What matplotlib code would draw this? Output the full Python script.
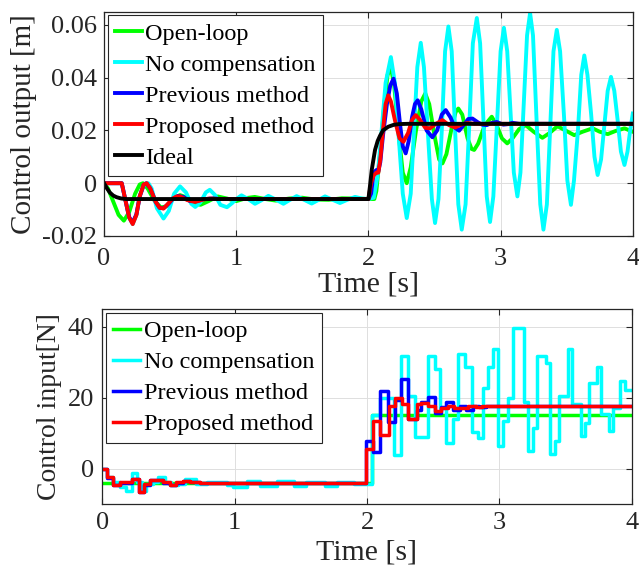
import matplotlib
matplotlib.use("Agg")
import matplotlib.pyplot as plt

plt.rcParams["font.family"] = ["Liberation Serif", "DejaVu Serif"]

# ---- control output [m] ----
open_t = [0, 0.03, 0.07, 0.11, 0.15, 0.19, 0.235, 0.27, 0.295, 0.33, 0.38, 0.43, 0.47, 0.52, 0.575,
          0.63, 0.69, 0.73, 0.79, 0.86, 0.93, 1.0, 1.08, 1.14, 1.22, 1.3, 1.4, 1.5, 1.6, 1.7, 1.8,
          1.9, 2.0, 2.045, 2.06, 2.09, 2.12, 2.145, 2.17, 2.195, 2.23, 2.26, 2.29, 2.32, 2.36, 2.40,
          2.43, 2.46, 2.50, 2.535, 2.56, 2.59, 2.63, 2.66, 2.68, 2.71, 2.75, 2.78, 2.80, 2.83, 2.88,
          2.933, 2.97, 3.01, 3.05, 3.09, 3.14, 3.19, 3.25, 3.316, 3.37, 3.43, 3.49, 3.557, 3.62,
          3.696, 3.75, 3.81, 3.87, 3.937, 4.0]
open_y = [0, -0.002, -0.007, -0.012, -0.0142, -0.011, -0.004, -0.0005, 0.0, -0.002, -0.0065, -0.0092,
          -0.0088, -0.006, -0.0045, -0.0055, -0.0078, -0.0082, -0.0068, -0.005, -0.0058, -0.0068,
          -0.0056, -0.0052, -0.006, -0.0066, -0.0058, -0.0055, -0.0062, -0.0063, -0.0057, -0.0058,
          -0.006, -0.006, -0.003, 0.012, 0.030, 0.041, 0.044, 0.037, 0.018, 0.004, 0.0, 0.006, 0.020,
          0.031, 0.034, 0.030, 0.018, 0.009, 0.0075, 0.011, 0.021, 0.027, 0.0283, 0.026, 0.017, 0.013,
          0.0126, 0.015, 0.022, 0.0252, 0.022, 0.017, 0.0151, 0.017, 0.0205, 0.022, 0.0195, 0.0172,
          0.019, 0.0216, 0.020, 0.0182, 0.0195, 0.0208, 0.0195, 0.0186, 0.0198, 0.0208, 0.0195]

nocomp_t = [0, 0.134, 0.16, 0.19, 0.217, 0.245, 0.27, 0.30, 0.335, 0.36, 0.40, 0.45, 0.49, 0.53, 0.575,
            0.62, 0.66, 0.69, 0.73, 0.77, 0.80, 0.84, 0.88, 0.93, 0.97, 1.0, 1.04, 1.09, 1.142, 1.19,
            1.243, 1.30, 1.357, 1.40, 1.457, 1.51, 1.571, 1.62, 1.672, 1.73, 1.785, 1.84, 1.899, 1.95,
            2.0, 2.04, 2.07, 2.10, 2.13, 2.17, 2.20, 2.23, 2.26, 2.29, 2.32, 2.345, 2.37, 2.396, 2.42,
            2.45, 2.48, 2.504, 2.53, 2.555, 2.58, 2.605, 2.63, 2.655, 2.68, 2.706, 2.735, 2.763, 2.79,
            2.82, 2.845, 2.87, 2.895, 2.92, 2.945, 2.972, 3.0, 3.025, 3.05, 3.075, 3.10, 3.127, 3.15,
            3.175, 3.20, 3.223, 3.245, 3.272, 3.30, 3.324, 3.35, 3.375, 3.40, 3.425, 3.45, 3.48, 3.505,
            3.532, 3.555, 3.585, 3.61, 3.633, 3.657, 3.685, 3.71, 3.734, 3.76, 3.785, 3.81, 3.835,
            3.86, 3.885, 3.91, 3.937, 3.96, 3.98, 4.0]
nocomp_y = [0, 0.0, -0.006, -0.013, -0.0155, -0.012, -0.005, -0.0008, 0.0, -0.002, -0.0095, -0.0134,
            -0.0105, -0.004, -0.0012, -0.0035, -0.0078, -0.009, -0.0072, -0.0035, -0.0025, -0.0045,
            -0.0082, -0.0091, -0.0075, -0.006, -0.0046, -0.006, -0.0078, -0.0065, -0.0048, -0.0062,
            -0.0078, -0.0065, -0.0049, -0.0062, -0.0077, -0.0064, -0.005, -0.0063, -0.0075, -0.0063,
            -0.0052, -0.0058, -0.006, -0.0055, 0.003, 0.020, 0.038, 0.0478, 0.038, 0.017, -0.004,
            -0.0132, -0.004, 0.020, 0.044, 0.0532, 0.044, 0.019, -0.006, -0.0151, -0.006, 0.020, 0.050,
            0.0594, 0.050, 0.021, -0.008, -0.0176, -0.008, 0.022, 0.053, 0.0626, 0.053, 0.024, -0.005,
            -0.0147, -0.005, 0.022, 0.050, 0.0589, 0.050, 0.027, 0.004, -0.005, 0.004, 0.030, 0.056,
            0.0645, 0.056, 0.024, -0.008, -0.0176, -0.008, 0.021, 0.050, 0.0581, 0.050, 0.025, 0.001,
            -0.0082, 0.001, 0.020, 0.041, 0.0484, 0.041, 0.026, 0.010, 0.0031, 0.009, 0.022, 0.035,
            0.0403, 0.035, 0.024, 0.012, 0.0069, 0.012, 0.020, 0.0264]

prev_t = [0, 0.134, 0.16, 0.19, 0.215, 0.245, 0.27, 0.30, 0.32, 0.35, 0.39, 0.42, 0.45, 0.48, 0.52,
          0.56, 0.60, 0.65, 0.70, 0.76, 0.82, 0.9, 2.0, 2.02, 2.04, 2.06, 2.075, 2.09, 2.11, 2.14,
          2.165, 2.19, 2.215, 2.24, 2.26, 2.282, 2.305, 2.33, 2.352, 2.373, 2.40, 2.44, 2.484, 2.52,
          2.555, 2.585, 2.62, 2.655, 2.686, 2.72, 2.755, 2.787, 2.83, 2.86, 2.895, 2.93, 2.97, 3.02,
          3.06, 3.09, 3.14, 4.0]
prev_y = [0, 0.0, -0.006, -0.0128, -0.015, -0.0118, -0.005, -0.0006, 0.0, -0.002, -0.007, -0.0093,
          -0.0095, -0.0082, -0.006, -0.0048, -0.0052, -0.0068, -0.0068, -0.006, -0.0058, -0.006,
          -0.006, -0.004, 0.004, 0.005, 0.0045, 0.008, 0.018, 0.030, 0.037, 0.0396, 0.034, 0.022,
          0.014, 0.0113, 0.016, 0.025, 0.030, 0.0314, 0.028, 0.020, 0.0174, 0.020, 0.026, 0.0277,
          0.025, 0.021, 0.0199, 0.022, 0.0243, 0.0245, 0.023, 0.0222, 0.022, 0.0228, 0.0232, 0.0222,
          0.0224, 0.0229, 0.0225, 0.0225]

prop_t = [0, 0.134, 0.16, 0.19, 0.217, 0.245, 0.27, 0.30, 0.323, 0.35, 0.39, 0.42, 0.45, 0.48, 0.52,
          0.55, 0.575, 0.63, 0.69, 0.75, 0.80, 0.87, 2.0, 2.02, 2.04, 2.06, 2.075, 2.09, 2.11, 2.13,
          2.15, 2.17, 2.20, 2.235, 2.265, 2.30, 2.33, 2.358, 2.39, 2.43, 2.466, 2.51, 2.56, 2.61,
          2.656, 2.70, 2.75, 2.80, 4.0]
prop_y = [0, 0.0, -0.006, -0.013, -0.0155, -0.012, -0.005, -0.0005, 0.0, -0.002, -0.007, -0.0093,
          -0.0096, -0.008, -0.0058, -0.005, -0.005, -0.0064, -0.0071, -0.0062, -0.0058, -0.006,
          -0.006, 0.0, 0.003, 0.004, 0.004, 0.009, 0.020, 0.030, 0.0333, 0.031, 0.024, 0.017, 0.0157,
          0.019, 0.024, 0.0258, 0.024, 0.021, 0.0208, 0.0225, 0.0239, 0.022, 0.0211, 0.0222, 0.0228,
          0.0225, 0.0225]

ideal_t = [0, 0.02, 0.045, 0.07, 0.095, 0.13, 0.17, 2.0, 2.012, 2.025, 2.05, 2.07, 2.088, 2.11, 2.15,
           2.19, 2.23, 2.3, 4.0]
ideal_y = [0, -0.0018, -0.0036, -0.0047, -0.0053, -0.0058, -0.006, -0.006, -0.001, 0.005, 0.0126,
           0.016, 0.018, 0.020, 0.0214, 0.0221, 0.0224, 0.0225, 0.0225]

# ---- control input [N], staircase: times where the held value changes ----
u_open_t = [0, 2.04, 4.0]
u_open = [-4.0, 15.2, 15.2]

u_nocomp_t = [0, 0.035, 0.08, 0.13, 0.18, 0.22, 0.262, 0.295, 0.332, 0.383, 0.42, 0.47, 0.52, 0.572,
              0.62, 0.71, 0.79, 0.94, 0.99, 1.09, 1.19, 1.32, 1.45, 1.54, 1.68, 1.77, 1.90, 2.04,
              2.10, 2.205, 2.26, 2.31, 2.36, 2.46, 2.51, 2.55, 2.60, 2.65, 2.69, 2.74, 2.79, 2.84,
              2.875, 2.915, 2.95, 2.99, 3.025, 3.065, 3.10, 3.183, 3.216, 3.251, 3.284, 3.352,
              3.384, 3.422, 3.452, 3.518, 3.553, 3.618, 3.648, 3.678, 3.736, 3.769, 3.829, 3.862,
              3.912, 3.95, 4.0]
u_nocomp = [0.0, -2.5, -3.9, -5.2, -6.3, -1.3, -3.9, -6.3, -4.4, -3.8, -2.5, -3.9, -4.7, -4.3, -2.9,
            -4.3, -3.9, -4.7, -5.2, -3.6, -5.0, -3.6, -5.0, -3.7, -4.9, -3.8, -4.3, 15.2, 19.8, 3.7,
            31.7, 20.4, 9.0, 31.7, 28.2, 17.0, 7.2, 14.0, 32.3, 28.6, 10.4, 8.5, 22.9, 28.6, 33.7,
            6.4, 13.5, 20.0, 39.8, 18.9, 5.0, 11.6, 31.8, 29.9, 4.0, 7.8, 20.5, 33.7, 18.3, 9.2,
            13.0, 24.3, 28.7, 15.5, 10.6, 17.0, 24.7, 22.1, 22.1]

u_prev_t = [0, 0.035, 0.08, 0.13, 0.22, 0.252, 0.277, 0.315, 0.358, 0.458, 0.509, 0.559, 0.61, 0.66,
            0.735, 1.99, 2.045, 2.10, 2.16, 2.21, 2.26, 2.31, 2.375, 2.41, 2.46, 2.51, 2.56, 2.60,
            2.65, 2.70, 2.75, 2.80, 2.85, 2.90, 2.95, 4.0]
u_prev = [0.0, -2.6, -4.6, -4.0, -3.0, -2.8, -6.5, -4.6, -3.2, -4.0, -4.6, -4.0, -3.6, -3.9, -4.1,
          7.8, 4.6, 22.0, 13.2, 19.5, 25.2, 14.0, 16.5, 18.9, 20.3, 15.8, 17.5, 18.8, 16.5, 17.6,
          16.6, 17.8, 17.3, 17.8, 17.6, 17.6]

u_prop_t = [0, 0.035, 0.08, 0.13, 0.22, 0.252, 0.277, 0.315, 0.358, 0.458, 0.509, 0.559, 0.61, 0.66,
            0.735, 1.99, 2.045, 2.10, 2.163, 2.213, 2.263, 2.313, 2.375, 2.41, 2.46, 2.51, 2.56,
            2.61, 2.66, 2.71, 2.76, 2.82, 2.87, 4.0]
u_prop = [0.0, -2.5, -4.7, -3.9, -3.0, -2.8, -6.7, -4.4, -3.2, -3.9, -4.7, -3.9, -3.6, -3.9, -4.1,
          5.4, 13.4, 9.6, 17.6, 20.0, 18.3, 13.9, 18.3, 18.4, 17.8, 16.4, 17.1, 17.7, 17.1, 17.2,
          17.6, 17.4, 17.6, 17.6]

labels = ["Open-loop", "No compensation", "Previous method", "Proposed method", "Ideal"]
colors = ["#00ff00", "#00ffff", "#0000ff", "#ff0000", "#000000"]

text_col = "#262626"


def style_axes(ax):
    ax.grid(True, color="#dedede", linewidth=0.7)
    ax.set_axisbelow(True)
    ax.tick_params(direction="in", top=True, right=True, length=4, width=0.8,
                   labelsize=19, colors=text_col)
    for s in ax.spines.values():
        s.set_color(text_col)
        s.set_linewidth(0.9)


def add_legend(ax):
    leg = ax.legend(loc="upper left", fontsize=17.5, fancybox=False, framealpha=1,
                    edgecolor=text_col, borderaxespad=0.15, handlelength=1.1,
                    handletextpad=0.15, labelspacing=0.37, borderpad=0.3)
    leg.get_frame().set_linewidth(0.8)
    for t in leg.get_texts():
        t.set_color("black")
    return leg


fig = plt.figure(figsize=(6.39, 5.75), dpi=100)

ax1 = fig.add_axes([0.1628, 0.5896, 0.8275, 0.3901])
ax1.plot(open_t, open_y, color=colors[0], lw=2.8, label=labels[0])
ax1.plot(nocomp_t, nocomp_y, color=colors[1], lw=2.8, label=labels[1])
ax1.plot(prev_t, prev_y, color=colors[2], lw=2.8, label=labels[2])
ax1.plot(prop_t, prop_y, color=colors[3], lw=2.8, label=labels[3])
ax1.plot(ideal_t, ideal_y, color=colors[4], lw=2.8, label=labels[4])
ax1.set_xlim(0, 4)
ax1.set_ylim(-0.02, 0.065)
ax1.set_xticks([0, 1, 2, 3, 4])
ax1.set_yticks([-0.02, 0, 0.02, 0.04, 0.06])
ax1.set_yticklabels(["-0.02", "0", "0.02", "0.04", "0.06"])
style_axes(ax1)
ax1.tick_params(axis="x", pad=9)
ax1.tick_params(axis="y", pad=5)
ax1.set_xlabel("Time [s]", fontsize=21.5, color=text_col, labelpad=1)
ax1.set_ylabel("Control output [m]", fontsize=21, color=text_col, labelpad=4)
add_legend(ax1)

ax2 = fig.add_axes([0.1604, 0.1235, 0.828, 0.3386])
ax2.plot(u_open_t, u_open, color=colors[0], lw=2.5, drawstyle="steps-post", label=labels[0])
ax2.plot(u_nocomp_t, u_nocomp, color=colors[1], lw=2.5, drawstyle="steps-post", label=labels[1])
ax2.plot(u_prev_t, u_prev, color=colors[2], lw=2.5, drawstyle="steps-post", label=labels[2])
ax2.plot(u_prop_t, u_prop, color=colors[3], lw=2.5, drawstyle="steps-post", label=labels[3])
ax2.set_xlim(0, 4)
ax2.set_ylim(-10, 45)
ax2.set_xticks([0, 1, 2, 3, 4])
ax2.set_yticks([0, 20, 40])
style_axes(ax2)
ax2.tick_params(axis="x", pad=6)
ax2.tick_params(axis="y", pad=6)
ax2.set_xlabel("Time [s]", fontsize=21.5, color=text_col, labelpad=4)
ax2.set_ylabel("Control input[N]", fontsize=20, color=text_col, labelpad=4)
add_legend(ax2)

fig.savefig("out.png", dpi=100)
